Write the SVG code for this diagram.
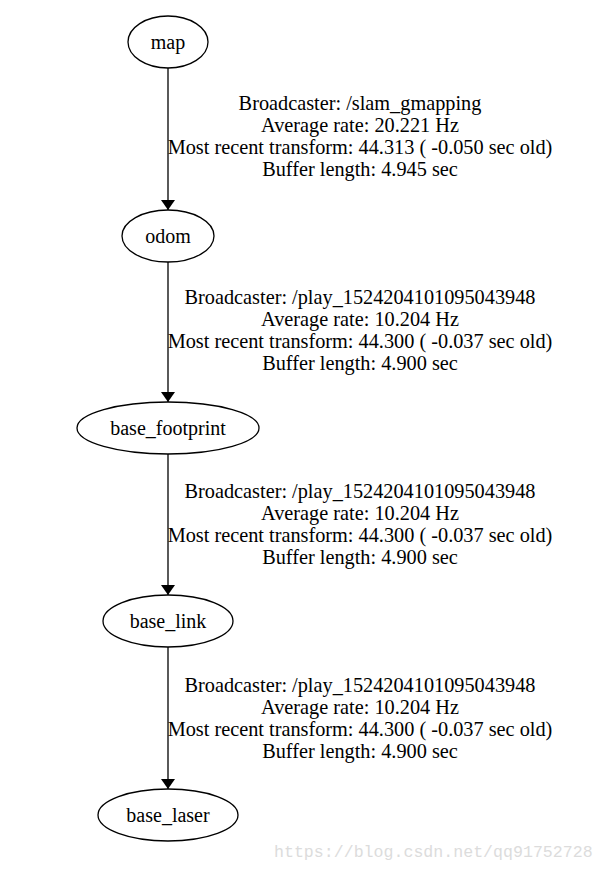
<svg xmlns="http://www.w3.org/2000/svg" width="604" height="871" viewBox="0 0 604 871">
<style>
.n ellipse{fill:none;stroke:#000;stroke-width:1.3}
text{font-family:"Liberation Serif","Times New Roman",serif;font-size:20px;fill:#000;text-anchor:middle}
#labels text{font-size:20.3px}
.e line{stroke:#000;stroke-width:1.3}
.wm{font-family:"Liberation Mono","DejaVu Sans Mono",monospace;font-size:16.6px;fill:#dcdcdc;text-anchor:start}
</style>
<defs>
<marker id="ah" markerWidth="10" markerHeight="14" refX="10" refY="7" orient="auto" markerUnits="userSpaceOnUse" viewBox="0 0 10 14">
<path d="M0,0 L10,7 L0,14 Z" fill="#000"/>
</marker>
</defs>
<rect width="604" height="871" fill="#fff"/>
<g id="connectors" class="e">
<line x1="168" y1="68" x2="168" y2="210" marker-end="url(#ah)"/>
<line x1="168" y1="262" x2="168" y2="402" marker-end="url(#ah)"/>
<line x1="168" y1="454" x2="168" y2="595" marker-end="url(#ah)"/>
<line x1="168" y1="647" x2="168" y2="789" marker-end="url(#ah)"/>
</g>
<g id="labels">
<text x="360" y="110">Broadcaster: /slam_gmapping</text>
<text x="360" y="132">Average rate: 20.221 Hz</text>
<text x="360" y="154">Most recent transform: 44.313 ( -0.050 sec old)</text>
<text x="360" y="176">Buffer length: 4.945 sec</text>
<text x="360" y="304">Broadcaster: /play_1524204101095043948</text>
<text x="360" y="326">Average rate: 10.204 Hz</text>
<text x="360" y="348">Most recent transform: 44.300 ( -0.037 sec old)</text>
<text x="360" y="370">Buffer length: 4.900 sec</text>
<text x="360" y="498">Broadcaster: /play_1524204101095043948</text>
<text x="360" y="520">Average rate: 10.204 Hz</text>
<text x="360" y="542">Most recent transform: 44.300 ( -0.037 sec old)</text>
<text x="360" y="564">Buffer length: 4.900 sec</text>
<text x="360" y="692">Broadcaster: /play_1524204101095043948</text>
<text x="360" y="714">Average rate: 10.204 Hz</text>
<text x="360" y="736">Most recent transform: 44.300 ( -0.037 sec old)</text>
<text x="360" y="758">Buffer length: 4.900 sec</text>
</g>
<g id="map" class="n"><ellipse cx="168" cy="42" rx="40" ry="26"/><text x="168" y="49">map</text></g>
<g id="odom" class="n"><ellipse cx="168" cy="236" rx="46" ry="26"/><text x="168" y="243">odom</text></g>
<g id="base_footprint" class="n"><ellipse cx="168" cy="428" rx="91" ry="26"/><text x="168" y="435">base_footprint</text></g>
<g id="base_link" class="n"><ellipse cx="168" cy="621" rx="65" ry="26"/><text x="168" y="628">base_link</text></g>
<g id="base_laser" class="n"><ellipse cx="168" cy="815" rx="70" ry="26"/><text x="168" y="822">base_laser</text></g>
<text class="wm" x="274" y="857">https://blog.csdn.net/qq91752728</text>
</svg>
